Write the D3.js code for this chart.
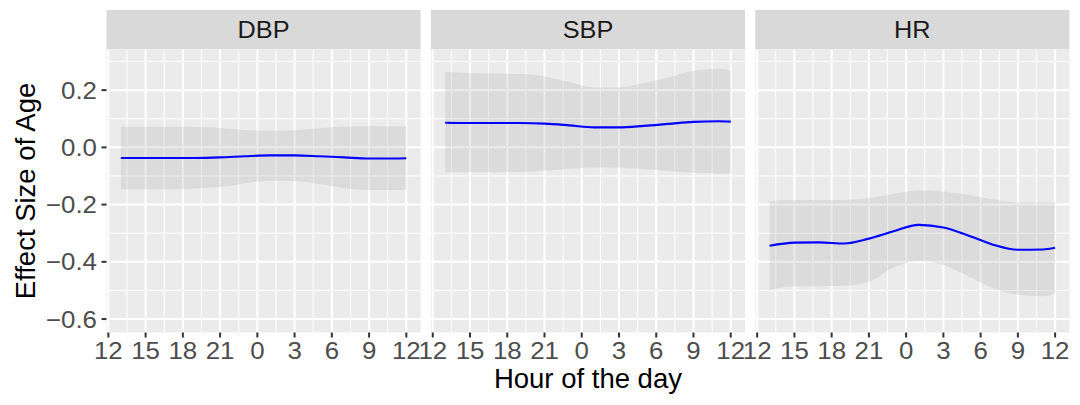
<!DOCTYPE html>
<html>
<head>
<meta charset="utf-8">
<script src="https://cdn.jsdelivr.net/npm/d3@7"></script>
<style>
  html, body { margin: 0; padding: 0; background: #fff; }
  svg { display: block; }
  text { font-family: "Liberation Sans", Arial, Helvetica, sans-serif; }
</style>
</head>
<body>
<svg id="chart" width="1080" height="405"></svg>
<script>
// ---- data ----
const panels = ["DBP", "SBP", "HR"];
const hours = [13, 15, 17, 19, 21, 23, 25, 27, 29, 31, 33, 35, 36];

const dbpFit   = [-0.037, -0.037, -0.037, -0.037, -0.035, -0.031, -0.028, -0.028, -0.031, -0.035, -0.039, -0.039, -0.038];
const dbpUpper = [0.072, 0.072, 0.072, 0.071, 0.068, 0.061, 0.058, 0.060, 0.067, 0.073, 0.074, 0.074, 0.074];
const dbpLower = [-0.146, -0.146, -0.146, -0.144, -0.138, -0.125, -0.117, -0.118, -0.128, -0.142, -0.149, -0.149, -0.148];

const sbpFit   = [0.086, 0.085, 0.085, 0.085, 0.083, 0.077, 0.070, 0.070, 0.075, 0.082, 0.089, 0.091, 0.090];
const sbpUpper = [0.264, 0.260, 0.258, 0.256, 0.248, 0.228, 0.209, 0.210, 0.225, 0.245, 0.268, 0.275, 0.270];
const sbpLower = [-0.087, -0.087, -0.087, -0.086, -0.082, -0.075, -0.070, -0.071, -0.076, -0.083, -0.089, -0.091, -0.092];

const hrFit   = [-0.344, -0.333, -0.332, -0.336, -0.319, -0.293, -0.271, -0.280, -0.308, -0.340, -0.358, -0.357, -0.351];
const hrUpper = [-0.188, -0.184, -0.184, -0.184, -0.177, -0.163, -0.150, -0.154, -0.166, -0.182, -0.193, -0.193, -0.192];
const hrLower = [-0.499, -0.485, -0.485, -0.484, -0.470, -0.420, -0.397, -0.411, -0.450, -0.492, -0.515, -0.520, -0.510];

const xTicks = [12, 15, 18, 21, 24, 27, 30, 33, 36];
const xTickLabels = ["12", "15", "18", "21", "0", "3", "6", "9", "12"];
const xMinor = [13.5, 16.5, 19.5, 22.5, 25.5, 28.5, 31.5, 34.5];
const yTicks = [0.2, 0.0, -0.2, -0.4, -0.6];
const yTickLabels = ["0.2", "0.0", "\u22120.2", "\u22120.4", "\u22120.6"];
const yMinor = [0.3, 0.1, -0.1, -0.3, -0.5];

const xTitle = "Hour of the day";
const yTitle = "Effect Size of Age";

// ---- layout ----
const seriesData = {
  DBP: { fit: dbpFit, upper: dbpUpper, lower: dbpLower },
  SBP: { fit: sbpFit, upper: sbpUpper, lower: sbpLower },
  HR:  { fit: hrFit,  upper: hrUpper,  lower: hrLower }
};

const svg = d3.select("#chart");
const plotLeft = 106.5, panelW = 314.1, gap = 10.3;
const stripTop = 10, stripH = 39.5;
const panelTop = 49.5, panelBottom = 332.5;
const tickSX = 1.1, stripSX = 1.1;

const y = d3.scaleLinear().domain([-0.647, 0.342]).range([panelBottom, panelTop]);

panels.forEach((name, i) => {
  const x0 = plotLeft + i * (panelW + gap);
  const x = d3.scaleLinear().domain([11.85, 37.15]).range([x0, x0 + panelW]);
  const g = svg.append("g");

  // strip
  g.append("rect").attr("x", x0).attr("y", stripTop).attr("width", panelW).attr("height", stripH)
    .attr("fill", "#D9D9D9");
  g.append("text")
    .attr("transform", `translate(${x0 + panelW / 2},${stripTop + stripH / 2}) scale(${stripSX},1)`)
    .attr("dy", "0.36em").attr("text-anchor", "middle")
    .attr("font-size", 23).attr("fill", "#1A1A1A").text(name);

  // panel background
  g.append("rect").attr("x", x0).attr("y", panelTop).attr("width", panelW)
    .attr("height", panelBottom - panelTop).attr("fill", "#EBEBEB");

  // minor grid
  g.selectAll(".ymin").data(yMinor).enter().append("line")
    .attr("x1", x0).attr("x2", x0 + panelW)
    .attr("y1", d => y(d)).attr("y2", d => y(d))
    .attr("stroke", "#fff").attr("stroke-width", 1);
  g.selectAll(".xmin").data(xMinor).enter().append("line")
    .attr("y1", panelTop).attr("y2", panelBottom)
    .attr("x1", d => x(d)).attr("x2", d => x(d))
    .attr("stroke", "#fff").attr("stroke-width", 1);
  // major grid
  g.selectAll(".ymaj").data(yTicks).enter().append("line")
    .attr("x1", x0).attr("x2", x0 + panelW)
    .attr("y1", d => y(d)).attr("y2", d => y(d))
    .attr("stroke", "#fff").attr("stroke-width", 2);
  g.selectAll(".xmaj").data(xTicks).enter().append("line")
    .attr("y1", panelTop).attr("y2", panelBottom)
    .attr("x1", d => x(d)).attr("x2", d => x(d))
    .attr("stroke", "#fff").attr("stroke-width", 2);

  // ribbon + line
  const s = seriesData[name];
  const pts = hours.map((h, k) => ({ h, fit: s.fit[k], lo: s.lower[k], hi: s.upper[k] }));
  const area = d3.area().x(d => x(d.h)).y0(d => y(d.lo)).y1(d => y(d.hi)).curve(d3.curveMonotoneX);
  const line = d3.line().x(d => x(d.h)).y(d => y(d.fit)).curve(d3.curveMonotoneX);
  g.append("path").datum(pts).attr("d", area).attr("fill", "#999999").attr("fill-opacity", 0.2);
  g.append("path").datum(pts).attr("d", line).attr("fill", "none")
    .attr("stroke", "#0000FF").attr("stroke-width", 2.1);

  // x axis ticks
  g.selectAll(".xt").data(xTicks).enter().append("line")
    .attr("x1", d => x(d)).attr("x2", d => x(d))
    .attr("y1", panelBottom).attr("y2", panelBottom + 5)
    .attr("stroke", "#333333").attr("stroke-width", 2);
  g.selectAll(".xl").data(xTicks).enter().append("text")
    .attr("transform", d => `translate(${x(d)},359) scale(${tickSX},1)`)
    .attr("text-anchor", "middle").attr("font-size", 23.5).attr("fill", "#4D4D4D")
    .text((d, k) => xTickLabels[k]);
});

// y axis
const ya = svg.append("g");
ya.selectAll(".yt").data(yTicks).enter().append("line")
  .attr("x1", plotLeft - 5).attr("x2", plotLeft)
  .attr("y1", d => y(d)).attr("y2", d => y(d))
  .attr("stroke", "#333333").attr("stroke-width", 2);
ya.selectAll(".yl").data(yTicks).enter().append("text")
  .attr("transform", d => `translate(${plotLeft - 9.5},${y(d)}) scale(${tickSX},1)`)
  .attr("dy", "0.36em")
  .attr("text-anchor", "end").attr("font-size", 23.5).attr("fill", "#4D4D4D")
  .text((d, k) => yTickLabels[k]);

// titles
svg.append("text").attr("x", plotLeft + (3 * panelW + 2 * gap) / 2).attr("y", 388)
  .attr("text-anchor", "middle").attr("font-size", 27.5).attr("fill", "#000").text(xTitle);
svg.append("text")
  .attr("transform", `translate(35,${(panelTop + panelBottom) / 2}) rotate(-90)`)
  .attr("text-anchor", "middle").attr("font-size", 27.5).attr("fill", "#000").text(yTitle);
</script>
</body>
</html>
